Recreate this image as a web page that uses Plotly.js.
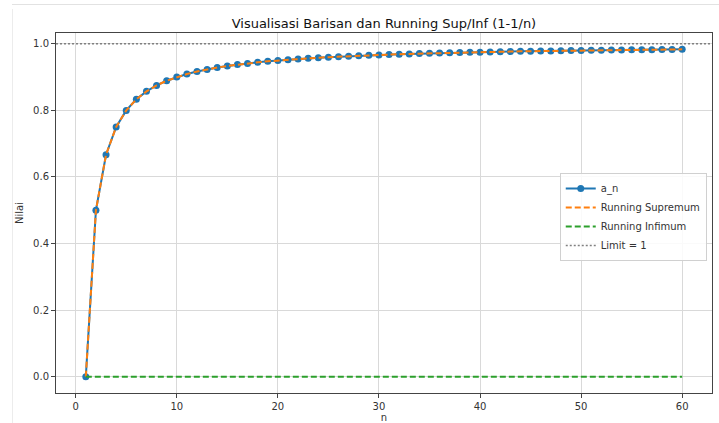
<!DOCTYPE html>
<html>
<head>
<meta charset="utf-8">
<script src="https://cdn.plot.ly/plotly-3.0.1.min.js"></script>
<style>
  html, body { margin: 0; padding: 0; background: #fff; }
  #wrap { position: relative; width: 719px; height: 423px; overflow: hidden; }
  #chart { position: absolute; left: 0; top: 0; width: 719px; height: 423px; }
  .frameTop { position: absolute; left: 12px; top: 4px; width: 707px; height: 0; border-top: 1px solid #e2e2e2; pointer-events: none; }
  .frameLeft { position: absolute; left: 12px; top: 9px; width: 0; height: 414px; border-left: 1px solid #ececec; pointer-events: none; }
</style>
</head>
<body>
<div id="wrap">
  <div id="chart"></div>
  <div class="frameTop"></div>
  <div class="frameLeft"></div>
</div>
<script>
const nValues = [1,2,3,4,5,6,7,8,9,10,11,12,13,14,15,16,17,18,19,20,
  21,22,23,24,25,26,27,28,29,30,31,32,33,34,35,36,37,38,39,40,
  41,42,43,44,45,46,47,48,49,50,51,52,53,54,55,56,57,58,59,60];

const aN = [0, 0.5, 0.6667, 0.75, 0.8, 0.8333, 0.8571, 0.875, 0.8889, 0.9,
  0.9091, 0.9167, 0.9231, 0.9286, 0.9333, 0.9375, 0.9412, 0.9444, 0.9474, 0.95,
  0.9524, 0.9545, 0.9565, 0.9583, 0.96, 0.9615, 0.963, 0.9643, 0.9655, 0.9667,
  0.9677, 0.9688, 0.9697, 0.9706, 0.9714, 0.9722, 0.973, 0.9737, 0.9744, 0.975,
  0.9756, 0.9762, 0.9767, 0.9773, 0.9778, 0.9783, 0.9787, 0.9792, 0.9796, 0.98,
  0.9804, 0.9808, 0.9811, 0.9815, 0.9818, 0.9821, 0.9825, 0.9828, 0.9831, 0.9833];

const runningSup = [0, 0.5, 0.6667, 0.75, 0.8, 0.8333, 0.8571, 0.875, 0.8889, 0.9,
  0.9091, 0.9167, 0.9231, 0.9286, 0.9333, 0.9375, 0.9412, 0.9444, 0.9474, 0.95,
  0.9524, 0.9545, 0.9565, 0.9583, 0.96, 0.9615, 0.963, 0.9643, 0.9655, 0.9667,
  0.9677, 0.9688, 0.9697, 0.9706, 0.9714, 0.9722, 0.973, 0.9737, 0.9744, 0.975,
  0.9756, 0.9762, 0.9767, 0.9773, 0.9778, 0.9783, 0.9787, 0.9792, 0.9796, 0.98,
  0.9804, 0.9808, 0.9811, 0.9815, 0.9818, 0.9821, 0.9825, 0.9828, 0.9831, 0.9833];

const runningInf = [0,0,0,0,0,0,0,0,0,0,0,0,0,0,0,0,0,0,0,0,
  0,0,0,0,0,0,0,0,0,0,0,0,0,0,0,0,0,0,0,0,
  0,0,0,0,0,0,0,0,0,0,0,0,0,0,0,0,0,0,0,0];

const limitValue = 1;
const xTickVals = [0, 10, 20, 30, 40, 50, 60];
const yTickVals = [0.0, 0.2, 0.4, 0.6, 0.8, 1.0];
const yTickText = ["0.0", "0.2", "0.4", "0.6", "0.8", "1.0"];

const xRange = [-1.95, 62.95];
const yRange = [-0.0492, 1.0325];

const font = "DejaVu Sans, Verdana, sans-serif";

const traces = [
  {
    x: nValues, y: aN, name: "a_n", type: "scatter", mode: "lines+markers",
    line: { color: "#1f77b4", width: 2 },
    marker: { color: "#1f77b4", size: 7 }
  },
  {
    x: nValues, y: runningSup, name: "Running Supremum", type: "scatter", mode: "lines",
    line: { color: "#ff7f0e", width: 2, dash: "6px,3px" }
  },
  {
    x: nValues, y: runningInf, name: "Running Infimum", type: "scatter", mode: "lines",
    line: { color: "#2ca02c", width: 2, dash: "6px,3px" }
  },
  {
    x: xRange, y: [limitValue, limitValue], name: "Limit = 1", type: "scatter", mode: "lines",
    line: { color: "#808080", width: 1.5, dash: "2px,2px" }
  }
];

const axisCommon = {
  showgrid: true, gridcolor: "#d9d9d9", gridwidth: 1,
  zeroline: false, showline: true, mirror: true, linecolor: "#444", linewidth: 1,
  ticks: "outside", ticklen: 4, tickcolor: "#444", tickwidth: 1,
  tickfont: { family: font, size: 10, color: "#333" }
};

const layout = {
  width: 719, height: 423,
  margin: { l: 56, r: 7, t: 33, b: 30 },
  paper_bgcolor: "#fff", plot_bgcolor: "#fff",
  title: {
    text: "Visualisasi Barisan dan Running Sup/Inf (1-1/n)",
    font: { family: font, size: 13, color: "#111" },
    x: 0.534, xanchor: "center", y: 0.945, yanchor: "middle", yref: "container"
  },
  xaxis: Object.assign({}, axisCommon, {
    range: xRange, tickvals: xTickVals,
    title: { text: "n", font: { family: font, size: 10, color: "#333" }, standoff: 2 }
  }),
  yaxis: Object.assign({}, axisCommon, {
    range: yRange, tickvals: yTickVals, ticktext: yTickText,
    title: { text: "Nilai", font: { family: font, size: 10, color: "#333" }, standoff: 7 }
  }),
  showlegend: true,
  legend: {
    x: 0.992, xanchor: "right", y: 0.611, yanchor: "top",
    bgcolor: "rgba(255,255,255,0.85)", bordercolor: "#d0d0d0", borderwidth: 1,
    font: { family: font, size: 10, color: "#333" },
    itemwidth: 30, tracegroupgap: 0
  }
};

Plotly.newPlot("chart", traces, layout, { displayModeBar: false, staticPlot: true });
</script>
</body>
</html>
